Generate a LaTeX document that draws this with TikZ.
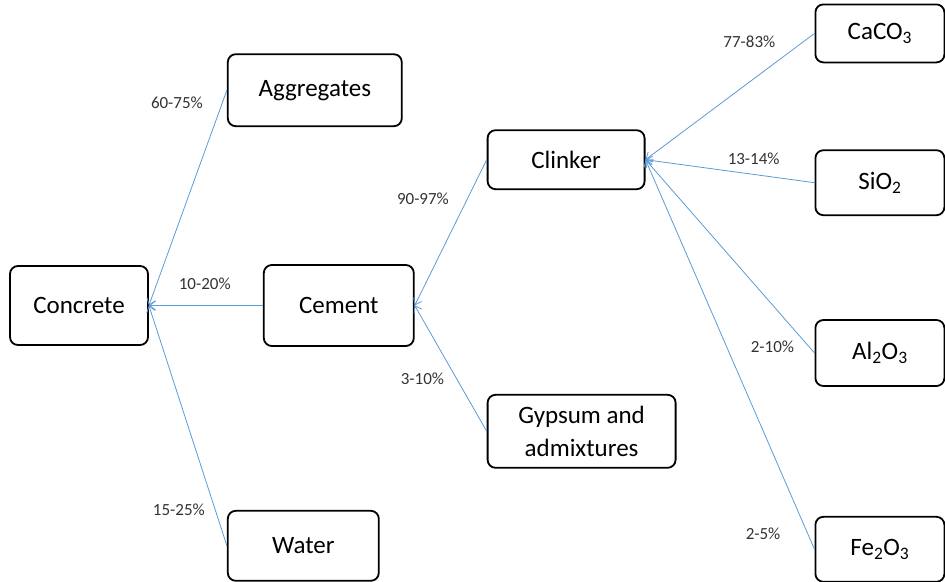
\documentclass[tikz,border=0pt]{standalone}
\usepackage{fontspec}
\setmainfont{Carlito}
\usetikzlibrary{positioning,arrows.meta}
\definecolor{linkblue}{RGB}{91,155,213}

\begin{document}
\begin{tikzpicture}[x=1pt,y=-1pt,>={Straight Barb[length=6pt,width=9pt]},
    part/.style={rectangle,draw,rounded corners=8pt,line width=1.8pt,align=center,inner sep=0pt,font=\fontsize{25}{33}\selectfont},
    share/.style={inner sep=0pt,text=black!80,font=\fontsize{17}{20}\selectfont}]

            \useasboundingbox (0,0) rectangle (945,581);

            \node[part, minimum width=138pt, minimum height=79pt] (concrete) at (79,305.5) {Concrete};

            \node[part, minimum width=174pt, minimum height=72pt] (aggregates) [above right=138pt and 78pt of concrete] {Aggregates};
            \node[part, minimum width=150pt, minimum height=81pt] (cement) [right=114pt of concrete] {Cement};
            \node[part, minimum width=151pt, minimum height=70pt] (water) [below right=164pt and 78pt of concrete] {Water};

            \node[part, minimum width=157pt, minimum height=59pt] (clinker) [above right=74pt and 72pt of cement] {Clinker};
            \node[part, minimum width=188pt, minimum height=73pt] (gypsum) [below right=47pt and 72pt of cement] {Gypsum and\\admixtures};

            \node[part, minimum width=129pt, minimum height=58pt] (caco3) [above right=66pt and 169pt of clinker] {CaCO\textsubscript{3}};
            \node[part, minimum width=129pt, minimum height=65pt] (sio2) [below=86pt of caco3] {SiO\textsubscript{2}};
            \node[part, minimum width=129pt, minimum height=66pt] (al2o3) [below=103pt of sio2] {Al\textsubscript{2}O\textsubscript{3}};
            \node[part, minimum width=129pt, minimum height=65pt] (fe2o3) [below=129pt of al2o3] {Fe\textsubscript{2}O\textsubscript{3}};

            \path[every edge/.style={draw=linkblue, line width=0.8pt, ->}, every node/.style={share}]
                (aggregates.west) edge node[pos=.06, left=19pt]{60-75\%} (concrete.east)
                (cement.west) edge node[pos=.51, above=15pt]{10-20\%} (concrete.east)
                (water.west) edge node[pos=.15, left=10pt]{15-25\%} (concrete.east)

                (clinker.west) edge node[pos=.27, left=18pt]{90-97\%} (cement.east)
                (gypsum.west) edge node[pos=.42, left=12pt]{3-10\%} (cement.east)

                (caco3.west) edge node[pos=.07, left=27pt]{77-83\%} (clinker.east)
                (sio2.west) edge node[pos=.36, above=9pt]{13-14\%} (clinker.east)
                (al2o3.west) edge node[pos=.03, left=15pt]{2-10\%} (clinker.east)
                (fe2o3.west) edge node[pos=.04, left=27pt]{2-5\%} (clinker.east)
                ;
\end{tikzpicture}
\end{document}
